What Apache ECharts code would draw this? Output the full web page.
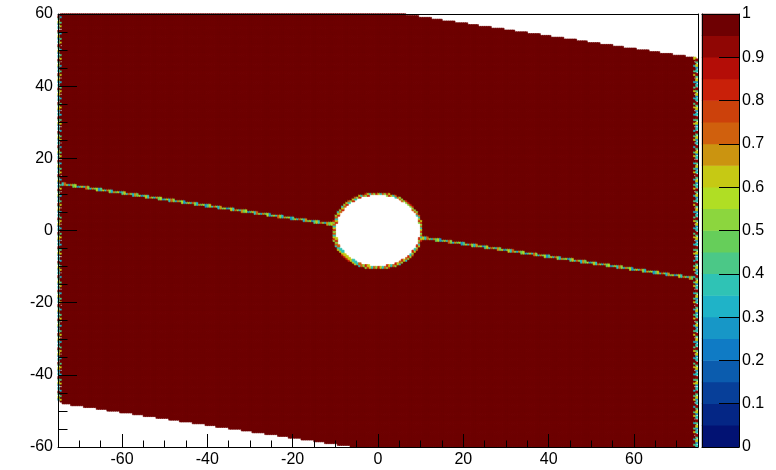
<!DOCTYPE html>
<html>
<head>
<meta charset="utf-8">
<script src="https://cdn.jsdelivr.net/npm/echarts@6/dist/echarts.min.js"></script>
<style>
html, body { margin: 0; padding: 0; background: #fff; }
#chart { width: 776px; height: 470px; }
</style>
</head>
<body>
<div id="chart"></div>
<script>
// histogram frame and binning
var xRange = [-75, 75];
var yRange = [-60, 60];
var binSize = 0.5;

// tick labels
var xTicks = [-60, -40, -20, 0, 20, 40, 60];
var yTicks = [-60, -40, -20, 0, 20, 40, 60];
var zRange = [0, 1];

// shape: band tilted by ~10 deg, +-60 across,
// hole of radius 10 at the origin, thin strip along the tilt axis
var tiltDeg = 10;
var bandHalfWidth = 60;
var holeRadius = 10;
var rimWidth = 0.7;
var stripHalfWidth = 0.35;
var fillLevel = 0.99;
var stripLevels = [0.42, 0.63, 0.37, 0.71, 0.52, 0.33, 0.67, 0.47, 0.58, 0.28];
var rimLevels = [0.62, 0.37, 0.72, 0.52, 0.82];
// outermost two bin columns on the left and right are patchy
var edgeLevels = [0.37, null, 0.28, 0.62, null, 0.42, 0.92, null];
var innerEdgeLevels = [0.99, 0.42, 0.99, 0.99, 0.33, 0.99, null, 0.99, 0.62];

// 20 contour colours of the palette, low to high
var levelColors = [
    '#021273', '#042685', '#073f99', '#0b5cae', '#0f7bc5',
    '#1797c7', '#1fb3c8', '#2fc3b5', '#4bc887', '#66ce5a',
    '#8cd63e', '#b0de24', '#c6c914', '#cb9410', '#d0600d',
    '#cc410b', '#c92009', '#b40d07', '#900604', '#6e0002'
];

var font = 'Liberation Sans, Arial, Helvetica, sans-serif';

function levelColor(v) {
    var k = Math.floor((v - zRange[0]) / (zRange[1] - zRange[0]) * levelColors.length);
    return levelColors[Math.max(0, Math.min(levelColors.length - 1, k))];
}

/* build bins */
var nx = Math.round((xRange[1] - xRange[0]) / binSize);
var ny = Math.round((yRange[1] - yRange[0]) / binSize);
var xCats = [], yCats = [];
for (var i = 0; i < nx; i++) xCats.push((xRange[0] + (i + 0.5) * binSize).toFixed(2));
for (var j = 0; j < ny; j++) yCats.push((yRange[0] + (j + 0.5) * binSize).toFixed(2));

var sn = Math.sin(tiltDeg * Math.PI / 180), cs = Math.cos(tiltDeg * Math.PI / 180);
var cells = [];
for (var ix = 0; ix < nx; ix++) {
    for (var iy = 0; iy < ny; iy++) {
        var x = +xCats[ix], y = +yCats[iy];
        var across = y * cs + x * sn;
        if (Math.abs(across) > bandHalfWidth) continue;
        var r = Math.sqrt(x * x + y * y);
        if (r < holeRadius) continue;
        var val = fillLevel;
        if (r < holeRadius + rimWidth) {
            val = rimLevels[(ix + iy) % rimLevels.length];
        } else if (Math.abs(across) < stripHalfWidth) {
            val = stripLevels[ix % stripLevels.length];
        }
        if (ix === 0 || ix === nx - 1) {
            val = edgeLevels[iy % edgeLevels.length];
        } else if (ix === 1 || ix === nx - 2) {
            val = innerEdgeLevels[iy % innerEdgeLevels.length];
        }
        if (val === null) continue;
        if (val === fillLevel) {
            cells.push([ix, iy, val]);
        } else {
            // own border colour so neighbouring bins close up without seams
            cells.push({value: [ix, iy, val], itemStyle: {borderColor: levelColor(val)}});
        }
    }
}

var barCells = [];
for (var k = 0; k < levelColors.length; k++) {
    barCells.push([0, k, (k + 0.5) / levelColors.length]);
}

var pieces = levelColors.map(function (c, k) {
    var step = (zRange[1] - zRange[0]) / levelColors.length;
    var p = {gte: zRange[0] + k * step, lt: zRange[0] + (k + 1) * step, color: c};
    if (k === levelColors.length - 1) { delete p.lt; p.lte = zRange[1]; }
    return p;
});

function lineOnly(extra) {
    var a = {
        axisLine: {show: true, onZero: false, lineStyle: {color: '#000', width: 1}},
        axisTick: {show: false},
        axisLabel: {show: false},
        splitLine: {show: false},
        z: 10
    };
    for (var key in extra) a[key] = extra[key];
    return a;
}

var lbl = {color: '#000', fontSize: 16, fontFamily: font};

var option = {
    animation: false,
    backgroundColor: '#fff',
    grid: [
        {left: 58, top: 14, width: 640, height: 433, outerBoundsMode: 'none'},
        {left: 702, top: 14, width: 37, height: 433, outerBoundsMode: 'none'}
    ],
    visualMap: {
        type: 'piecewise',
        show: false,
        seriesIndex: [0, 1],
        dimension: 2,
        pieces: pieces
    },
    xAxis: [
        {type: 'category', gridIndex: 0, data: xCats, show: false},
        {
            type: 'value', gridIndex: 0, position: 'bottom', min: xRange[0], max: xRange[1], z: 10,
            axisLine: {show: true, onZero: false, lineStyle: {color: '#000', width: 1}},
            axisTick: {show: true, inside: true, length: 13, customValues: xTicks, lineStyle: {color: '#000'}},
            axisLabel: Object.assign({customValues: xTicks, margin: 5}, lbl),
            splitLine: {show: false}
        },
        {
            type: 'value', gridIndex: 0, position: 'bottom', min: xRange[0], max: xRange[1], interval: 5, z: 10,
            axisLine: {show: false, onZero: false},
            axisTick: {show: true, inside: true, length: 6.5, lineStyle: {color: '#000'}},
            axisLabel: {show: false},
            splitLine: {show: false}
        },
        lineOnly({type: 'value', gridIndex: 0, position: 'top', min: xRange[0], max: xRange[1]}),
        {type: 'category', gridIndex: 1, data: ['z'], show: false},
        lineOnly({type: 'category', gridIndex: 1, position: 'top', data: ['z']}),
        lineOnly({type: 'category', gridIndex: 1, position: 'bottom', data: ['z']})
    ],
    yAxis: [
        {type: 'category', gridIndex: 0, data: yCats, show: false},
        {
            type: 'value', gridIndex: 0, position: 'left', min: yRange[0], max: yRange[1], interval: 20, z: 10,
            axisLine: {show: true, onZero: false, lineStyle: {color: '#000', width: 1}},
            axisTick: {show: true, inside: true, length: 19, lineStyle: {color: '#000'}},
            axisLabel: Object.assign({margin: 5, showMinLabel: true, showMaxLabel: true}, lbl),
            splitLine: {show: false}
        },
        {
            type: 'value', gridIndex: 0, position: 'left', min: yRange[0], max: yRange[1], interval: 5, z: 10,
            axisLine: {show: false, onZero: false},
            axisTick: {show: true, inside: true, length: 9.5, lineStyle: {color: '#000'}},
            axisLabel: {show: false},
            splitLine: {show: false}
        },
        lineOnly({type: 'value', gridIndex: 0, position: 'right', min: yRange[0], max: yRange[1]}),
        {type: 'category', gridIndex: 1, data: levelColors.map(function (c, k) { return k; }), show: false},
        {
            type: 'value', gridIndex: 1, position: 'right', min: zRange[0], max: zRange[1], interval: 0.1, z: 10,
            axisLine: {show: true, onZero: false, lineStyle: {color: '#000', width: 1}},
            axisTick: {show: true, inside: true, length: 20, lineStyle: {color: '#000'}},
            axisLabel: Object.assign({margin: 3, showMinLabel: true, showMaxLabel: true}, lbl),
            splitLine: {show: false}
        },
        lineOnly({type: 'value', gridIndex: 1, position: 'left', min: zRange[0], max: zRange[1]})
    ],
    series: [
        {
            type: 'heatmap',
            xAxisIndex: 0,
            yAxisIndex: 0,
            data: cells,
            progressive: 0,
            itemStyle: {borderColor: levelColor(fillLevel), borderWidth: 0.6},
            emphasis: {disabled: true}
        },
        {
            type: 'heatmap',
            xAxisIndex: 4,
            yAxisIndex: 4,
            data: barCells,
            progressive: 0,
            emphasis: {disabled: true}
        }
    ]
};

var chart = echarts.init(document.getElementById('chart'), null, {renderer: 'canvas'});
chart.setOption(option);
</script>
</body>
</html>
